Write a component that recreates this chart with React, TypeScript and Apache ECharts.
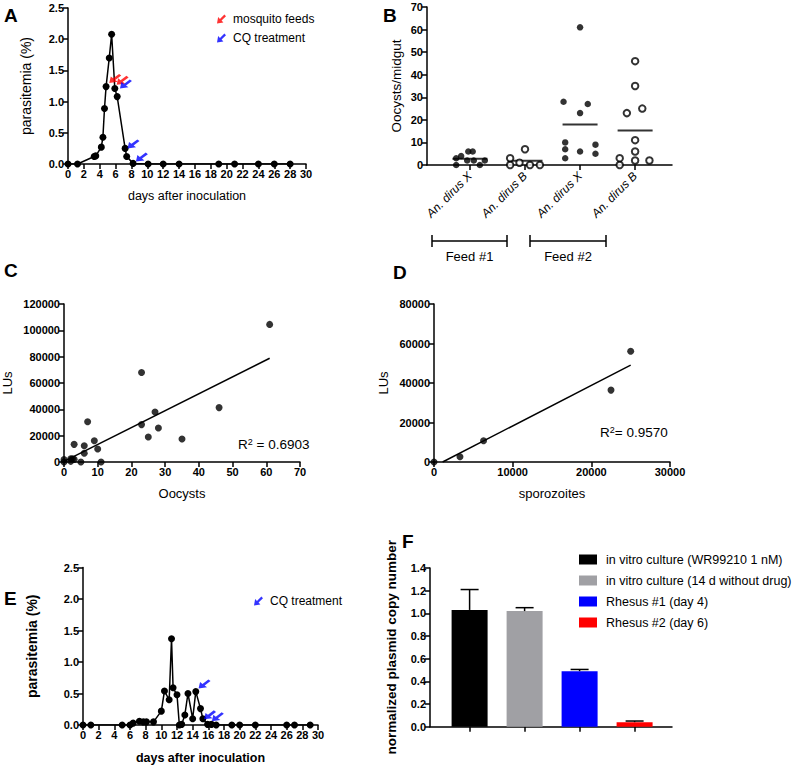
import React, { useEffect, useRef } from 'react';
import * as echarts from 'echarts';

const FONT = '"Liberation Sans", Arial, Helvetica, sans-serif';
const ARROW = 'path://M0 10 L1.28 2.79 L3.33 4.84 L8.33 -0.17 L10.17 1.67 L5.17 6.68 L7.22 8.73 Z';

// ---------- Panel A ----------
const daysA = [0, 1.2, 3.3, 3.5, 4.2, 4.4, 4.6, 4.8, 5.2, 5.5, 5.9, 6.2, 7.2, 7.4, 8.2, 10.1, 12, 14, 19, 21, 24, 26, 28];
const parasA = [0, 0, 0.12, 0.13, 0.27, 0.43, 0.89, 1.24, 1.7, 2.08, 1.21, 1.08, 0.25, 0.12, 0.01, 0, 0, 0, 0, 0, 0, 0, 0];
const feedArrowDaysA = [5.2, 6.13];
const feedArrowValsA = [1.3, 1.27];
const cqArrowDaysA = [6.55, 7.5, 8.56];
const cqArrowValsA = [1.21, 0.25, 0.04];

// ---------- Panel B ----------
const speciesB = ['An. dirus X', 'An. dirus B', 'An. dirus X', 'An. dirus B'];
const posB = [0.78, 1.78, 2.78, 3.78];
const oocystsB1 = [0, 3, 4, 6, 6, 2, 2, 0, 2];
const jitterB1 = [-0.25, -0.25, -0.16, -0.03, 0.05, -0.05, 0.07, 0.18, 0.27];
const oocystsB2 = [3, 0, 1, 7, 0, 0];
const jitterB2 = [-0.27, -0.27, -0.1, 0, 0.09, 0.27];
const oocystsB3 = [61, 28, 27, 23, 10, 7, 6, 9, 5, 3];
const jitterB3 = [0, -0.3, 0.14, 0, -0.27, -0.27, 0, 0.28, 0.28, -0.27];
const oocystsB4 = [46, 35, 23, 25, 11, 6, 3, 0, 2, 2];
const jitterB4 = [0, 0, -0.15, 0.13, 0, 0, -0.28, -0.28, 0, 0.26];
const feedLabels = ['Feed #1', 'Feed #2'];

// ---------- Panel C ----------
const oocystsC = [61, 23, 7, 46, 27, 23, 28, 25, 35, 9, 3, 6, 10, 6, 0, 0, 2, 2.5, 3, 5, 11, 2];
const lusC = [104500, 68000, 30600, 41300, 38000, 28400, 25800, 19000, 17500, 16200, 13400, 12400, 9900, 6600, 1800, 0, 2500, 2500, 2000, 0, 0, 500];
const r2C = 'R{sup|2}{a| = 0.6903}';

// ---------- Panel D ----------
const sporoD = [0, 3300, 6300, 22500, 25000];
const lusD = [0, 2700, 10800, 36400, 56100];
const r2D = 'R{sup|2}{a|= 0.9570}';

// ---------- Panel E ----------
const daysE = [0, 1, 5, 6, 6.4, 7.2, 7.7, 8.1, 9, 10, 10.4, 11, 11.3, 11.5, 12, 12.3, 12.6, 13, 13.4, 14, 14.4, 15, 15.3, 15.9, 16.4, 17, 19, 20, 22, 26, 27, 29];
const parasE = [0, 0, 0, 0, 0.03, 0.06, 0.05, 0.05, 0.05, 0.22, 0.54, 0.4, 1.37, 0.59, 0.48, 0, 0.01, 0.16, 0.5, 0.1, 0.53, 0.26, 0.1, 0.01, 0.01, 0, 0, 0, 0, 0, 0, 0];
const cqArrowDaysE = [14.75, 15.45, 16.45];
const cqArrowValsE = [0.58, 0.09, 0.06];

// ---------- Panel F ----------
const namesF = ['in vitro culture (WR99210 1 nM)', 'in vitro culture (14 d without drug)', 'Rhesus #1 (day 4)', 'Rhesus #2 (day 6)'];
const posF = [0.72, 1.72, 2.72, 3.72];
const valsF = [1.03, 1.02, 0.49, 0.04];
const errTopF = [1.21, 1.05, 0.505, 0.05];
const colorsF = ['#000000', '#a0a0a4', '#0000ff', '#ff0000'];

const zip = (a: number[], b: number[]) => a.map((v, i) => [v, b[i]]);

function linFit(xs: number[], ys: number[]) {
  const n = xs.length;
  const mx = xs.reduce((s, v) => s + v, 0) / n;
  const my = ys.reduce((s, v) => s + v, 0) / n;
  let sxy = 0, sxx = 0;
  for (let i = 0; i < n; i++) { sxy += (xs[i] - mx) * (ys[i] - my); sxx += (xs[i] - mx) ** 2; }
  const slope = sxy / sxx;
  const intercept = my - slope * mx;
  let x0 = Math.min(...xs);
  if (intercept + slope * x0 < 0) x0 = -intercept / slope;
  const x1 = Math.max(...xs);
  return [[x0, intercept + slope * x0], [x1, intercept + slope * x1]];
}

const mean = (a: number[]) => a.reduce((s, v) => s + v, 0) / a.length;

function axis(gridIndex: number, o: any) {
  const { axisLabel = {}, axisTick = {}, nameTextStyle = {}, ...rest } = o;
  return {
    type: 'value',
    gridIndex,
    axisLine: { show: true, onZero: false, lineStyle: { color: '#000', width: 1.5 } },
    axisTick: { show: true, inside: false, length: 5, lineStyle: { color: '#000', width: 1.5 }, ...axisTick },
    axisLabel: { color: '#000', fontSize: 11, fontWeight: 'bold', fontFamily: FONT, margin: 4, ...axisLabel },
    splitLine: { show: false },
    nameLocation: 'middle',
    nameTextStyle: { color: '#000', fontFamily: FONT, fontSize: 13, ...nameTextStyle },
    ...rest,
  };
}

const fmt1 = (v: number) => v.toFixed(1);
const fmt0 = (v: number) => String(Math.round(v));

function jitterData(pos: number, vals: number[], jit: number[]) {
  return vals.map((v, i) => [pos + jit[i], v]);
}

export default function App() {
  const ref = useRef<HTMLDivElement>(null);
  useEffect(() => {
    if (!ref.current) return;
    const chart = echarts.init(ref.current, undefined, { renderer: 'svg' });
    const dotStyle = { color: '#000' };
    const openStyle = { color: '#fff', borderColor: '#000', borderWidth: 2 };
    const arrowSeries = (name: string, color: string, xi: number, xs: number[], ys: number[]) => ({
      type: 'scatter', name, xAxisIndex: xi, yAxisIndex: xi, data: zip(xs, ys),
      symbol: ARROW, symbolSize: [12, 9], symbolOffset: [6, -4.5],
      itemStyle: { color }, z: 5, silent: true,
    });
    const lineSeries = (xi: number, xs: number[], ys: number[]) => ({
      type: 'line', xAxisIndex: xi, yAxisIndex: xi, data: zip(xs, ys),
      symbol: 'circle', symbolSize: 7, showAllSymbol: true,
      itemStyle: { color: '#000' }, lineStyle: { color: '#000', width: 1.5 }, silent: true,
    });
    const groupsB = [
      { pos: posB[0], vals: oocystsB1, jit: jitterB1, open: false },
      { pos: posB[1], vals: oocystsB2, jit: jitterB2, open: true },
      { pos: posB[2], vals: oocystsB3, jit: jitterB3, open: false },
      { pos: posB[3], vals: oocystsB4, jit: jitterB4, open: true },
    ];
    const fitC = linFit(oocystsC, lusC);
    const fitD = linFit(sporoD, lusD);
    const arrowLegendText = { fontSize: 12, color: '#000', fontFamily: FONT };

    const option: any = {
      animation: false,
      textStyle: { fontFamily: FONT },
      grid: [
        { left: 68, top: 8, width: 238, height: 156 },
        { left: 427, top: 7, width: 245, height: 158 },
        { left: 64, top: 304, width: 236, height: 158 },
        { left: 434, top: 304, width: 236, height: 158 },
        { left: 83, top: 567.5, width: 235, height: 157.5 },
        { left: 430, top: 568, width: 242, height: 158.7 },
      ],
      xAxis: [
        axis(0, { min: 0, max: 30, interval: 2, name: 'days after inoculation', nameGap: 25, nameTextStyle: { fontSize: 12.5 } }),
        axis(1, {
          min: 0, max: 4.45,
          axisLabel: {
            customValues: posB, rotate: 45, fontStyle: 'italic', fontWeight: 'normal', fontSize: 12, margin: 9,
            formatter: (v: number) => speciesB[Math.round(v - posB[0])] || '',
          },
          axisTick: { customValues: posB },
        }),
        axis(2, { min: 0, max: 70, interval: 10, name: 'Oocysts', nameGap: 25 }),
        axis(3, { min: 0, max: 30000, interval: 10000, name: 'sporozoites', nameGap: 25, axisLabel: { formatter: fmt0 } }),
        axis(4, { min: 0, max: 30, interval: 2, name: 'days after inoculation', nameGap: 26, nameTextStyle: { fontSize: 12.5, fontWeight: 'bold' } }),
        axis(5, { min: 0, max: 4.4, axisLabel: { show: false }, axisTick: { customValues: posF } }),
      ],
      yAxis: [
        axis(0, { min: 0, max: 2.5, interval: 0.5, name: 'parasitemia (%)', nameGap: 35, nameTextStyle: { fontSize: 14 }, axisLabel: { formatter: fmt1 } }),
        axis(1, { min: 0, max: 70, interval: 10, name: 'Oocysts/midgut', nameGap: 24, nameTextStyle: { fontSize: 13.5 } }),
        axis(2, { min: 0, max: 120000, interval: 20000, name: 'LUs', nameGap: 50, axisLabel: { formatter: fmt0 } }),
        axis(3, { min: 0, max: 80000, interval: 20000, name: 'LUs', nameGap: 44, axisLabel: { formatter: fmt0 } }),
        axis(4, { min: 0, max: 2.5, interval: 0.5, name: 'parasitemia (%)', nameGap: 44, nameTextStyle: { fontWeight: 'bold', fontSize: 14 }, axisLabel: { formatter: fmt1 } }),
        axis(5, { min: 0, max: 1.4, interval: 0.2, name: 'normalized plasmid copy number', nameGap: 32, nameTextStyle: { fontWeight: 'bold', fontSize: 13.5 }, axisLabel: { formatter: fmt1 } }),
      ],
      legend: [
        {
          data: [{ name: 'mosquito feeds', icon: ARROW }, { name: 'CQ treatment', icon: ARROW }],
          left: 212, top: 8, orient: 'vertical', itemWidth: 13, itemHeight: 9, itemGap: 7, selectedMode: false,
          textStyle: arrowLegendText,
        },
        {
          data: [{ name: 'CQ treatment', icon: ARROW }],
          left: 249, top: 590, orient: 'vertical', itemWidth: 13, itemHeight: 9, selectedMode: false,
          textStyle: arrowLegendText,
        },
        {
          data: namesF.map((n) => ({ name: n, icon: 'rect' })),
          left: 574, top: 548, orient: 'vertical', itemWidth: 18, itemHeight: 10, itemGap: 8, selectedMode: false,
          textStyle: { fontSize: 12.5, color: '#000', fontFamily: FONT, padding: [0, 0, 0, 4] },
        },
      ],
      series: [
        lineSeries(0, daysA, parasA),
        arrowSeries('mosquito feeds', '#ff0000', 0, feedArrowDaysA, feedArrowValsA),
        arrowSeries('CQ treatment', '#0000ff', 0, cqArrowDaysA, cqArrowValsA),
        {
          type: 'scatter', xAxisIndex: 1, yAxisIndex: 1, silent: true,
          data: groupsB.map((g) => [g.pos, mean(g.vals)]),
          symbol: 'rect', symbolSize: [35, 2], itemStyle: { color: '#000' }, z: 2,
        },
        ...groupsB.map((g) => ({
          type: 'scatter', xAxisIndex: 1, yAxisIndex: 1, silent: true,
          data: jitterData(g.pos, g.vals, g.jit),
          symbol: 'circle', symbolSize: 6.5,
          itemStyle: g.open ? openStyle : dotStyle, z: 3,
        })),
        {
          type: 'line', xAxisIndex: 2, yAxisIndex: 2, data: fitC, symbol: 'none', silent: true,
          lineStyle: { color: '#000', width: 1.5 },
        },
        {
          type: 'scatter', xAxisIndex: 2, yAxisIndex: 2, data: zip(oocystsC, lusC), silent: true,
          symbol: 'circle', symbolSize: 7, itemStyle: dotStyle, z: 3,
        },
        {
          type: 'line', xAxisIndex: 3, yAxisIndex: 3, data: fitD, symbol: 'none', silent: true,
          lineStyle: { color: '#000', width: 1.5 },
        },
        {
          type: 'scatter', xAxisIndex: 3, yAxisIndex: 3, data: zip(sporoD, lusD), silent: true,
          symbol: 'circle', symbolSize: 7, itemStyle: dotStyle, z: 3,
        },
        lineSeries(4, daysE, parasE),
        arrowSeries('CQ treatment', '#0000ff', 4, cqArrowDaysE, cqArrowValsE),
        ...namesF.map((n, i) => ({
          type: 'bar', name: n, xAxisIndex: 5, yAxisIndex: 5, data: [[posF[i], valsF[i]]],
          barWidth: 36, barGap: '-100%', itemStyle: { color: colorsF[i] }, silent: true,
        })),
        {
          type: 'custom', xAxisIndex: 5, yAxisIndex: 5, silent: true, z: 4,
          data: posF.map((p, i) => [p, valsF[i], errTopF[i]]),
          encode: { x: 0, y: [1, 2] },
          renderItem: (params: any, api: any) => {
            const p1 = api.coord([api.value(0), api.value(1)]);
            const p2 = api.coord([api.value(0), api.value(2)]);
            const st = { stroke: '#000', lineWidth: 1.5 };
            return {
              type: 'group',
              children: [
                { type: 'line', shape: { x1: p1[0], y1: p1[1], x2: p2[0], y2: p2[1] }, style: st },
                { type: 'line', shape: { x1: p2[0] - 9, y1: p2[1], x2: p2[0] + 9, y2: p2[1] }, style: st },
              ],
            };
          },
        },
      ],
      graphic: [
        ...[['A', 4, 15], ['B', 383, 15], ['C', 4, 270], ['D', 393, 272], ['E', 4, 598], ['F', 402, 541]].map(([t, x, y]) => ({
          type: 'text', x, y,
          style: { text: t, font: `bold 19px ${FONT}`, fill: '#000', verticalAlign: 'middle' },
        })),
        {
          type: 'text', x: 238, y: 444,
          style: {
            text: r2C, fill: '#000', verticalAlign: 'middle', font: `13.5px ${FONT}`,
            rich: { a: { fontSize: 13.5, fontFamily: FONT }, sup: { fontSize: 9, fontFamily: FONT, verticalAlign: 'top' } },
          },
        },
        {
          type: 'text', x: 600, y: 432,
          style: {
            text: r2D, fill: '#000', verticalAlign: 'middle', font: `13.5px ${FONT}`,
            rich: { a: { fontSize: 13.5, fontFamily: FONT }, sup: { fontSize: 9, fontFamily: FONT, verticalAlign: 'top' } },
          },
        },
        ...[[432, 507, feedLabels[0]], [530, 606, feedLabels[1]]].flatMap(([x1, x2, label]: any) => [
          { type: 'line', shape: { x1, y1: 241, x2, y2: 241 }, style: { stroke: '#000', lineWidth: 1.5 } },
          { type: 'line', shape: { x1, y1: 235, x2: x1, y2: 247 }, style: { stroke: '#000', lineWidth: 1.5 } },
          { type: 'line', shape: { x1: x2, y1: 235, x2, y2: 247 }, style: { stroke: '#000', lineWidth: 1.5 } },
          {
            type: 'text', x: (x1 + x2) / 2, y: 256,
            style: { text: label, font: `13px ${FONT}`, fill: '#000', align: 'center', verticalAlign: 'middle' },
          },
        ]),
      ],
    };
    chart.setOption(option);
    return () => chart.dispose();
  }, []);
  return <div ref={ref} style={{ position: 'absolute', left: 0, top: 0, width: 796, height: 768, background: '#fff' }} />;
}
